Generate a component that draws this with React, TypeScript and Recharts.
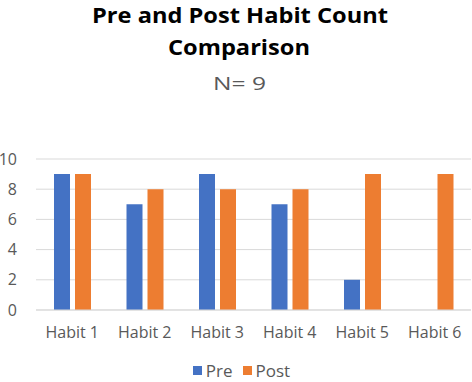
import React from "react";
import { BarChart, Bar, XAxis, YAxis, CartesianGrid, Legend } from "recharts";

const categories = ["Habit 1", "Habit 2", "Habit 3", "Habit 4", "Habit 5", "Habit 6"];
const preValues = [9, 7, 9, 7, 2, 0];
const postValues = [9, 8, 8, 8, 9, 9];
const yTicks = [0, 2, 4, 6, 8, 10];
const seriesNames = ["Pre", "Post"];
const seriesColors = ["#4472C4", "#ED7D31"];

const data = categories.map((c, i) => ({ name: c, Pre: preValues[i], Post: postValues[i] }));

const FONT = "'Open Sans', sans-serif";

const LegendContent = () => (
  <div
    style={{
      display: "flex",
      justifyContent: "center",
      alignItems: "center",
      fontFamily: FONT,
      fontSize: 17,
      color: "#595959",
      height: 28,
      paddingTop: 4,
      boxSizing: "border-box",
      paddingLeft: 12,
    }}
  >
    {seriesNames.map((n, i) => (
      <div key={n} style={{ display: "flex", alignItems: "center", marginRight: i === 0 ? 10 : 0 }}>
        <span style={{ display: "inline-block", width: 9, height: 9, background: seriesColors[i], marginRight: 4 }} />
        <span style={{ lineHeight: "23px" }}>{n}</span>
      </div>
    ))}
  </div>
);

export default function App() {
  return (
    <div style={{ position: "absolute", left: 0, top: 0, width: 472, height: 382, background: "#fff" }}>
      <BarChart
        width={472}
        height={382}
        data={data}
        margin={{ top: 159, right: 1, bottom: 0, left: 0 }}
        barSize={16}
        barGap={5}
      >
        <CartesianGrid vertical={false} stroke="#D9D9D9" strokeWidth={1} />
        <XAxis
          dataKey="name"
          axisLine={{ stroke: "#D9D9D9" }}
          tickLine={false}
          tickSize={0}
          tickMargin={17}
          height={44}
          tick={{ fill: "#595959", fontSize: 16, fontFamily: FONT }}
          interval={0}
        />
        <YAxis
          domain={[0, 10]}
          ticks={yTicks}
          width={36}
          axisLine={false}
          tickLine={false}
          tickSize={0}
          tickMargin={19}
          tick={{ fill: "#595959", fontSize: 16, fontFamily: FONT }}
        />
        <Legend verticalAlign="bottom" height={28} content={<LegendContent />} />
        <Bar dataKey="Pre" fill={seriesColors[0]} isAnimationActive={false} />
        <Bar dataKey="Post" fill={seriesColors[1]} isAnimationActive={false} />
      </BarChart>
      <svg width={472} height={110} style={{ position: "absolute", left: 0, top: 0, pointerEvents: "none" }}>
        <text x={240} y={22.5} textAnchor="middle" fontFamily={FONT} fontWeight="bold" fontSize={21} fill="#000" textLength={296} lengthAdjust="spacingAndGlyphs">
          Pre and Post Habit Count
        </text>
        <text x={239} y={55} textAnchor="middle" fontFamily={FONT} fontWeight="bold" fontSize={22} fill="#000" textLength={142} lengthAdjust="spacingAndGlyphs">
          Comparison
        </text>
        <text x={239.5} y={90} textAnchor="middle" fontFamily={FONT} fontSize={17.5} fill="#595959" textLength={53} lengthAdjust="spacingAndGlyphs">
          N= 9
        </text>
      </svg>
    </div>
  );
}
